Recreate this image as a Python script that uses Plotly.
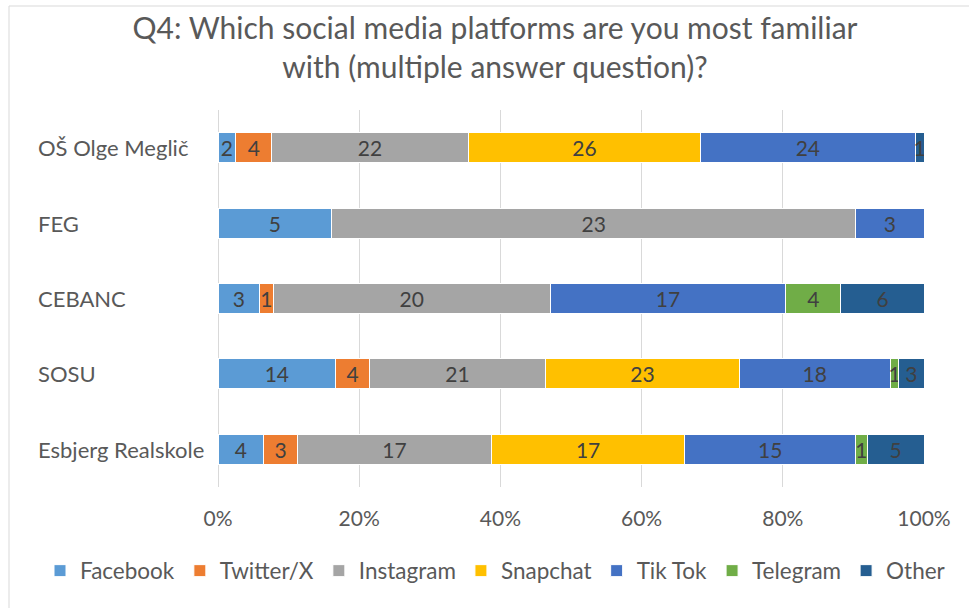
import plotly.graph_objects as go

categories = ["OŠ Olge Meglič", "FEG", "CEBANC", "SOSU", "Esbjerg Realskole"]
series_names = ["Facebook", "Twitter/X", "Instagram", "Snapchat", "Tik Tok", "Telegram", "Other"]
facebook = [2, 5, 3, 14, 4]
twitter = [4, 0, 1, 4, 3]
instagram = [22, 23, 20, 21, 17]
snapchat = [26, 0, 0, 23, 17]
tiktok = [24, 3, 17, 18, 15]
telegram = [0, 0, 4, 1, 1]
other = [1, 0, 6, 3, 5]
tick_vals = [0, 20, 40, 60, 80, 100]
tick_text = ["0%", "20%", "40%", "60%", "80%", "100%"]
title_text = "Q4: Which social media platforms are you most familiar<br>with (multiple answer question)?"

series_values = [facebook, twitter, instagram, snapchat, tiktok, telegram, other]
colors = ["#5B9BD5", "#ED7D31", "#A5A5A5", "#FFC000", "#4472C4", "#70AD47", "#255E91"]

FONT = "Lato"
W, H = 969, 608
L, R, T, B = 218, 45, 110, 121

fig = go.Figure()
for name, vals, col in zip(series_names, series_values, colors):
    fig.add_trace(go.Bar(
        name=name, y=categories, x=vals, orientation="h",
        marker=dict(color=col, line=dict(color="white", width=1)),
        text=[str(v) if v > 0 else "" for v in vals],
        textposition="inside", insidetextanchor="middle", textangle=0,
        constraintext="none",
        textfont=dict(family=FONT, size=21, color="#404040"),
        hoverinfo="x+y+name",
    ))

pw = W - L - R
ph = H - T - B
for c in categories:
    fig.add_annotation(x=(36 - L) / pw, xref="paper", y=c, yref="y", text=c,
                       showarrow=False, xanchor="left", yanchor="middle",
                       font=dict(family=FONT, size=22, color="#595959"))

fig.add_shape(type="rect", xref="paper", yref="paper",
              x0=(9 - L) / pw, x1=(W + 20 - L) / pw,
              y0=-(H + 20 - (H - B)) / ph, y1=(H - B - 6) / ph,
              line=dict(color="#D9D9D9", width=1), fillcolor="rgba(0,0,0,0)", layer="below")

fig.update_layout(
    width=W, height=H,
    barmode="stack", barnorm="percent", bargap=0.6,
    paper_bgcolor="white", plot_bgcolor="white",
    margin=dict(l=L, r=R, t=T, b=B),
    title=dict(text=title_text, x=495 / W, xanchor="center", xref="container",
               y=1 - 39 / H, yanchor="middle", yref="container",
               font=dict(family=FONT, size=30, color="#595959")),
    legend=dict(orientation="h", xref="paper", yref="paper",
                x=(40 - L) / pw, xanchor="left", y=-(571 - (H - B)) / ph, yanchor="middle",
                font=dict(family=FONT, size=22.5, color="#595959"),
                itemwidth=30, traceorder="normal"),
    uniformtext=dict(minsize=21, mode="show"),
    font=dict(family=FONT, color="#595959"),
)
fig.update_xaxes(range=[0, 100], tickvals=tick_vals, ticktext=tick_text,
                 showgrid=True, gridcolor="#D9D9D9", gridwidth=1,
                 zeroline=True, zerolinecolor="#D9D9D9", zerolinewidth=1,
                 ticks="outside", ticklen=13, tickcolor="rgba(0,0,0,0)",
                 tickfont=dict(family=FONT, size=21, color="#595959"),
                 showline=False, fixedrange=True)
fig.update_yaxes(categoryorder="array", categoryarray=categories, autorange="reversed",
                 showticklabels=False, showgrid=False, zeroline=False, fixedrange=True)

fig.write_html("out.html")
